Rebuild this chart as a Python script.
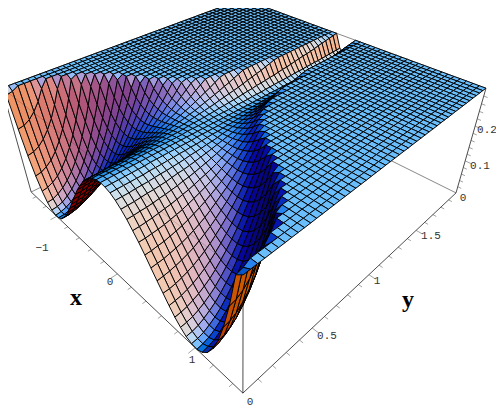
import numpy as np, altair as alt

# Heights z of the surface (double-well profile along the front
# edge, narrowing trench towards the back). One row per y step (0.04), one entry per |x| step
# (0.06) counted from x=0; the picture is mirror-symmetric in x. Entries left out sit on the
# flat clipped plateau at ZTOP.
ZTOP = 0.30
X_STEP, Y_STEP = 0.06, 0.04
N_X, N_Y = 25, 50
HEIGHTS = [
 [.250,.248,.243,.234,.222,.207,.189,.170,.148,.125,.102,.080,.058,.038,.022,.009,.002,.000,.007,.022,.048,.086,.138,.205,.288],
 [.250,.248,.243,.234,.222,.207,.189,.170,.148,.126,.103,.080,.059,.039,.023,.010,.003,.002,.009,.024,.051,.089,.141,.208,.292],
 [.250,.248,.243,.234,.222,.208,.190,.171,.150,.127,.105,.082,.061,.042,.026,.014,.007,.007,.014,.031,.058,.097,.149,.217],
 [.250,.248,.243,.235,.223,.208,.191,.172,.151,.130,.108,.086,.066,.047,.032,.021,.015,.015,.024,.041,.069,.109,.163,.232],
 [.250,.248,.243,.235,.224,.209,.193,.174,.154,.133,.112,.091,.071,.054,.040,.030,.025,.027,.037,.056,.085,.127,.182,.253],
 [.250,.248,.243,.235,.224,.211,.195,.177,.157,.137,.117,.097,.079,.063,.050,.041,.038,.042,.054,.074,.106,.150,.207,.281],
 [.250,.248,.244,.236,.225,.212,.197,.180,.161,.142,.123,.105,.088,.073,.062,.056,.055,.060,.074,.097,.131,.178,.238],
 [.250,.249,.244,.237,.226,.214,.200,.183,.166,.148,.131,.114,.099,.086,.077,.073,.074,.082,.098,.124,.161,.211,.274],
 [.250,.249,.244,.237,.228,.216,.203,.188,.172,.155,.139,.124,.111,.101,.094,.092,.096,.107,.126,.156,.196,.249],
 [.250,.249,.245,.238,.230,.219,.206,.193,.178,.163,.149,.136,.125,.117,.113,.114,.121,.135,.158,.191,.235,.292],
 [.250,.249,.245,.239,.231,.221,.210,.198,.185,.172,.160,.149,.141,.136,.135,.139,.149,.167,.194,.230,.279],
 [.250,.249,.246,.240,.233,.224,.215,.204,.193,.182,.172,.164,.158,.156,.158,.166,.180,.202,.233,.274],
 [.250,.249,.246,.242,.235,.228,.219,.210,.201,.193,.185,.180,.177,.179,.184,.196,.214,.240,.276],
 [.250,.249,.247,.243,.238,.231,.224,.217,.210,.204,.200,.197,.198,.203,.213,.228,.251,.282],
 [.250,.249,.247,.244,.240,.235,.230,.225,.220,.217,.215,.216,.221,.229,.243,.263,.291],
 [.250,.250,.248,.246,.243,.239,.236,.233,.231,.230,.232,.236,.245,.257,.276],
 [.250,.250,.249,.247,.246,.244,.243,.242,.242,.245,.250,.258,.270,.288],
 [.250,.250,.250,.249,.249,.249,.249,.251,.255,.260,.269,.281,.298],
 [.250,.250,.250,.251,.252,.254,.257,.261,.267,.277,.289],
 [.250,.250,.251,.253,.255,.259,.264,.272,.281,.294],
 [.250,.251,.252,.255,.259,.265,.272,.283,.296],
 [.250,.251,.253,.257,.263,.271,.281,.294],
 [.250,.251,.254,.259,.267,.277,.290],
 [.250,.251,.255,.262,.271,.283,.299],
 [.250,.252,.256,.264,.275,.290],
 [.250,.252,.257,.267,.280,.297],
 [.250,.252,.258,.269,.284],
 [.250,.252,.260,.272,.289],
 [.250,.253,.261,.275,.294],
 [.250,.253,.262,.278,.299],
 [.250,.253,.264,.281],
 [.250,.254,.265,.284],
 [.250,.254,.266,.287],
 [.250,.255,.268,.291],
 [.250,.255,.269,.294],
 [.250,.255,.271,.298],
 [.250,.256,.273],
 [.250,.256,.274],
 [.250,.257,.276],
 [.250,.257,.278],
 [.250,.257,.280],
 [.250,.258,.282],
 [.250,.258,.283],
 [.250,.259,.285],
 [.250,.259,.287],
 [.250,.260,.290],
 [.250,.260,.292],
 [.250,.261,.294],
 [.250,.262,.296],
 [.250,.262,.298],
 [.250,.263,.300],
]
TICK_LABELS = [("\u22121",42,248),("0",110,282),("1",192,360),("0",250,402),("0.5",327,336),
               ("1",377,281),("1.5",431,236),("0",463,198),("0.1",480,166),("0.2",487,130)]
AXIS_TITLES = [("x",76,298),("y",408,300)]

# Box corners and where they sit in the picture: (x,y,z) -> pixel
CORNERS = [((1.5,0,0),(243,393)),((-1.5,0,0),(31,192)),((1.5,2,0),(456,193)),
           ((1.5,0,.3),(243,275)),((-1.5,0,.3),(2,88)),((1.5,2,.3),(486,88)),((-1.5,2,.3),(243,-1))]
MARGIN = 8   # page margin: picture pixels map to chart pixels minus this

def box(x,y,z):
    return np.array([(x+1.5)/3,y/2,z/ZTOP*0.4,1.0])

w = np.ones(len(CORNERS))
for _ in range(30):
    A=[]
    for k,(c,p) in enumerate(CORNERS):
        X=box(*c)*w[k]; u_,v_=(p[0]-250)/250,(p[1]-200)/250
        A.append(np.r_[X,0,0,0,0,-u_*X]); A.append(np.r_[0,0,0,0,X,-v_*X])
    Pn=np.linalg.svd(np.array(A))[2][-1].reshape(3,4)
    w=np.array([1/(Pn[2]@box(*c)) for c,_ in CORNERS]); w=w/np.abs(w).mean()
P=np.array([[250,0,250],[0,250,200],[0,0,1.0]])@Pn
def proj(x,y,z):
    v=P@box(x,y,z)
    return [round(float(v[0]/v[2]),1),round(float(v[1]/v[2]),1)]

C=np.linalg.svd(P)[2][-1]; C=C[:3]/C[3]
f=np.array([.5,.5,.2])-C; f/=np.linalg.norm(f)
r=np.cross(f,[0,0,1]); r/=np.linalg.norm(r)
u=np.cross(r,f)
lights=[np.array(l)/np.linalg.norm(l) for l in [(1,0,1),(1,1,1),(0,1,1)]]
AMBIENT=[.03,.02,.15]
GAIN=[.97,.92,1.0]

def height(i,j):
    row=HEIGHTS[j]; k=abs(i)
    return row[k] if k<len(row) else ZTOP

feats=[]
for j in range(N_Y):
    for i in range(-N_X,N_X):
        idx=[(i,j),(i+1,j),(i+1,j+1),(i,j+1)]
        nodes=[(a*X_STEP,b*Y_STEP,height(a,b)) for a,b in idx]
        pts=[box(*n)[:3] for n in nodes]
        n=np.cross(pts[2]-pts[0],pts[3]-pts[1]); n/=np.linalg.norm(n)
        if n[2]<0: n=-n
        c=sum(pts)/4
        under = n@(C-c)<0
        if under: n=-n
        nv=np.array([n@r,n@u,-n@f])
        amb=[0,0,0] if under else AMBIENT
        rgb=[min(1,max(0,nv@l)*g*(1-a)+a) for l,a,g in zip(lights,amb,GAIN)]
        col='#%02x%02x%02x'%tuple(int(255*v) for v in rgb)
        ring=[proj(*m) for m in nodes]; ring.append(ring[0])
        feats.append((float(np.linalg.norm(C-c)),{"type":"Feature","geometry":{"type":"Polygon","coordinates":[ring]},"properties":{"fill":col}}))
feats.sort(key=lambda t:-t[0])
feats=[t[1] for t in feats]

def line(a,b,col="#000000",op=1.0,wd=0.7):
    return {"type":"Feature","geometry":{"type":"LineString","coordinates":[proj(*a),proj(*b)]},"properties":{"col":col,"op":op,"wd":wd}}

back=[line((1.5,0,0),(1.5,0,.3)),line((-1.5,0,0),(-1.5,0,.3)),line((1.5,2,0),(1.5,2,.3)),
      line((-1.5,0,0),(-1.5,2,0),"#555555"),line((1.5,2,0),(-1.5,2,0),"#555555"),
      line((-1.5,0,.3),(-1.5,2,.3)),line((-1.5,2,.3),(1.5,2,.3),"#555555")]
front=[line((-1.5,0,0),(1.5,0,0)),line((1.5,0,0),(1.5,2,0)),
       line((-1.5,0,.3),(1.5,0,.3),"#000000",.22),line((1.5,0,.3),(1.5,2,.3),"#000000",.22)]
for v in np.arange(-14,15)/10:
    if abs(round(v*5)-v*5)<1e-6:
        L=.022 if abs(v-round(v))<1e-6 else .012
        front.append(line((v,0,0),(v,-2*L,0),"#444444",1,.5))
for v in np.arange(1,20)/10:
    L=.022 if abs(v*2-round(v*2))<1e-6 else .012
    front.append(line((1.5,v,0),(1.5+3*L,v,0),"#444444",1,.5))
for v in np.arange(1,15)/50:
    L=.022 if abs(v*10-round(v*10))<1e-6 else .012
    front.append(line((1.5,2,v),(1.5+3*L,2,v),"#444444",1,.5))

PR=dict(type='identity',scale=1,translate=[-MARGIN,-MARGIN])
def lines(fs):
    return alt.Chart(alt.Data(values=fs)).mark_geoshape(filled=False).encode(
        stroke=alt.Stroke('properties.col:N',scale=None),
        strokeOpacity=alt.StrokeOpacity('properties.op:Q',scale=None),
        strokeWidth=alt.StrokeWidth('properties.wd:Q',scale=None)).project(**PR)
surf=alt.Chart(alt.Data(values=feats)).mark_geoshape(stroke='black',strokeWidth=0.95).encode(
    fill=alt.Color('properties.fill:N',scale=None)).project(**PR)
def texts(rows,**kw):
    data=[{"t":t,"px":a,"py":b} for t,a,b in rows]
    return alt.Chart(alt.Data(values=data)).mark_text(**kw).encode(
        longitude='px:Q',latitude='py:Q',text='t:N').project(**PR)
chart=alt.layer(lines(back),surf,lines(front),
    texts(TICK_LABELS,font="Liberation Mono",fontSize=11,color="#333333"),
    texts(AXIS_TITLES,font="Liberation Serif",fontSize=24,fontWeight="bold",color="#000000")
).properties(width=488,height=401,padding=0).configure_view(stroke=None)
chart.save("out.html", embed_options={"renderer": "svg", "actions": False})
